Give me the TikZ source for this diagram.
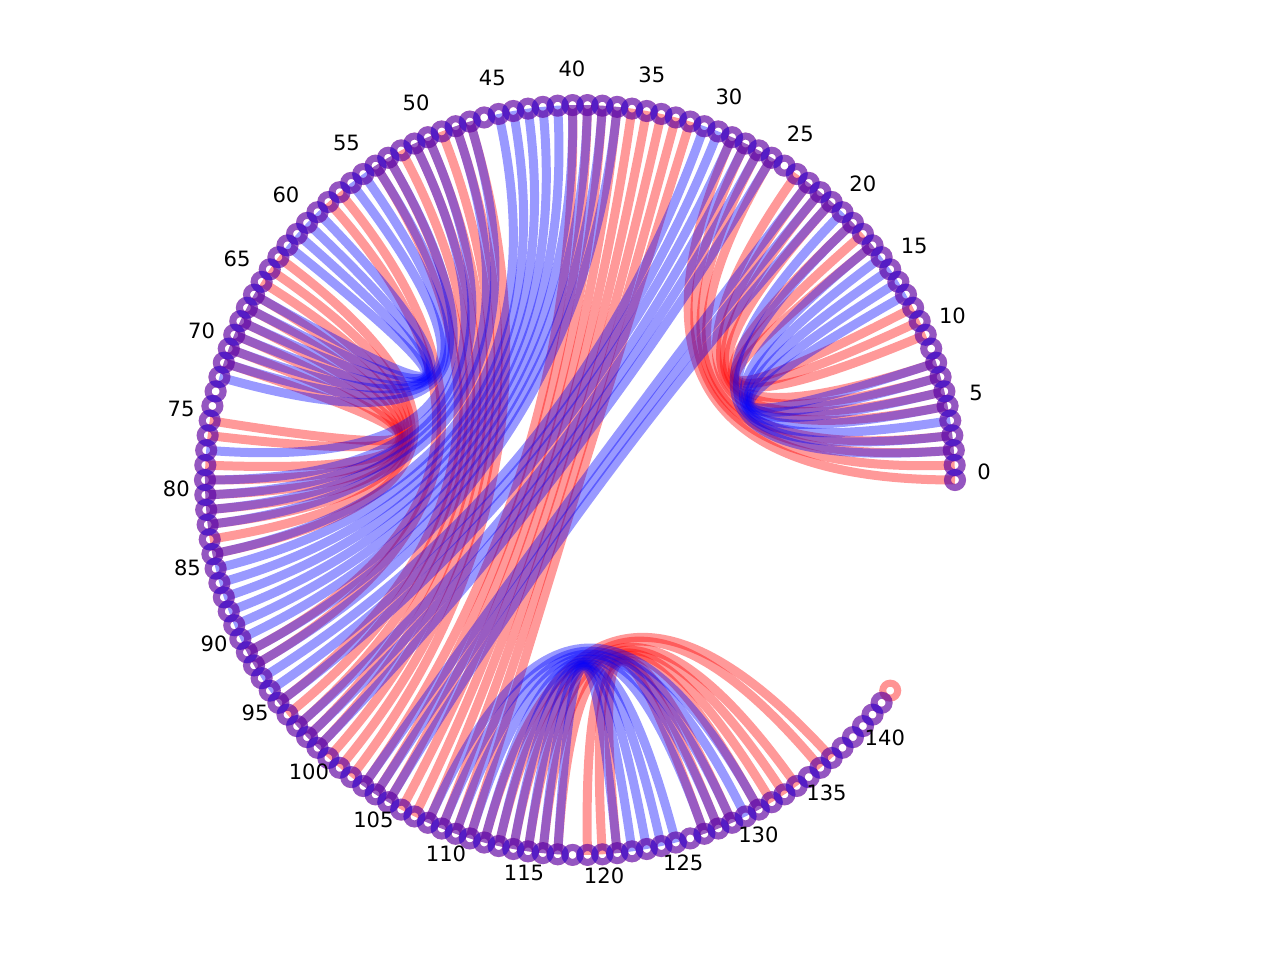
\documentclass[tikz,border=0pt]{standalone}
\usepackage{fontspec}
\setmainfont{DejaVu Sans}
\usetikzlibrary{calc}
\pgfdeclarelayer{edges}
\pgfsetlayers{edges,main}

\newcommand{\stp}{2.2785}

\begin{document}
\begin{tikzpicture}[
    redring/.style={circle, draw=red, draw opacity=0.42, line width=0.14cm, minimum size=0.30cm, inner sep=0pt},
    bluering/.style={circle, draw=blue, draw opacity=0.42, line width=0.14cm, minimum size=0.30cm, inner sep=0pt},
    redpair/.style={draw=red, draw opacity=0.4, line width=0.18cm},
    bluepair/.style={draw=blue, draw opacity=0.4, line width=0.18cm},
    lbl/.style={font=\fontsize{12}{14}\selectfont, anchor=base, inner sep=0pt}
]
\useasboundingbox (-11.6,-9.6) rectangle (14.0,9.6);
\coordinate (hub) at (0,0);

% Red structure nodes
\foreach \i in {0,...,143}
  \node[redring] (r\i) at (\i*\stp:7.5) {};
% Blue structure nodes
\foreach \i in {0,...,142}
  \node[bluering] (b\i) at (\i*\stp:7.5) {};

% Index labels
\foreach \i in {0,5,...,140}
  \node[lbl] (t\i) at (\i*\stp:8.08) {\i};

\begin{pgfonlayer}{edges}
% Red pairs
\foreach \a/\b in {0/29,1/28,2/27,3/26,5/24,6/23,7/22,8/21,10/19,11/18,12/17,
    32/111,33/110,34/109,35/108,36/107,37/106,38/105,39/104,40/103,
    47/102,48/101,49/100,50/99,51/98,52/97,53/96,54/95,57/92,58/91,
    63/84,64/83,65/82,66/81,67/80,68/79,69/78,70/76,71/75,
    112/137,113/136,114/134,115/133,116/132,117/131,119/129,120/128,121/127}
  \draw[redpair] (r\a.center) .. controls ($(r\a.center)!0.6667!(hub)$) and ($(r\b.center)!0.6667!(hub)$) .. (r\b.center);
% Blue pairs
\foreach \a/\b in {2/20,3/19,4/17,5/16,6/15,7/14,8/13,
    21/105,22/104,23/103,26/99,27/98,28/97,29/95,30/94,31/93,
    37/92,38/91,39/90,40/89,41/88,42/87,43/86,44/85,45/84,
    47/82,48/81,50/80,51/79,53/77,54/72,55/71,56/70,59/69,60/68,61/67,62/66,
    108/131,109/130,110/129,111/128,112/127,113/125,114/124,115/123,116/122,117/121}
  \draw[bluepair] (b\a.center) .. controls ($(b\a.center)!0.6667!(hub)$) and ($(b\b.center)!0.6667!(hub)$) .. (b\b.center);
\end{pgfonlayer}
\end{tikzpicture}
\end{document}
